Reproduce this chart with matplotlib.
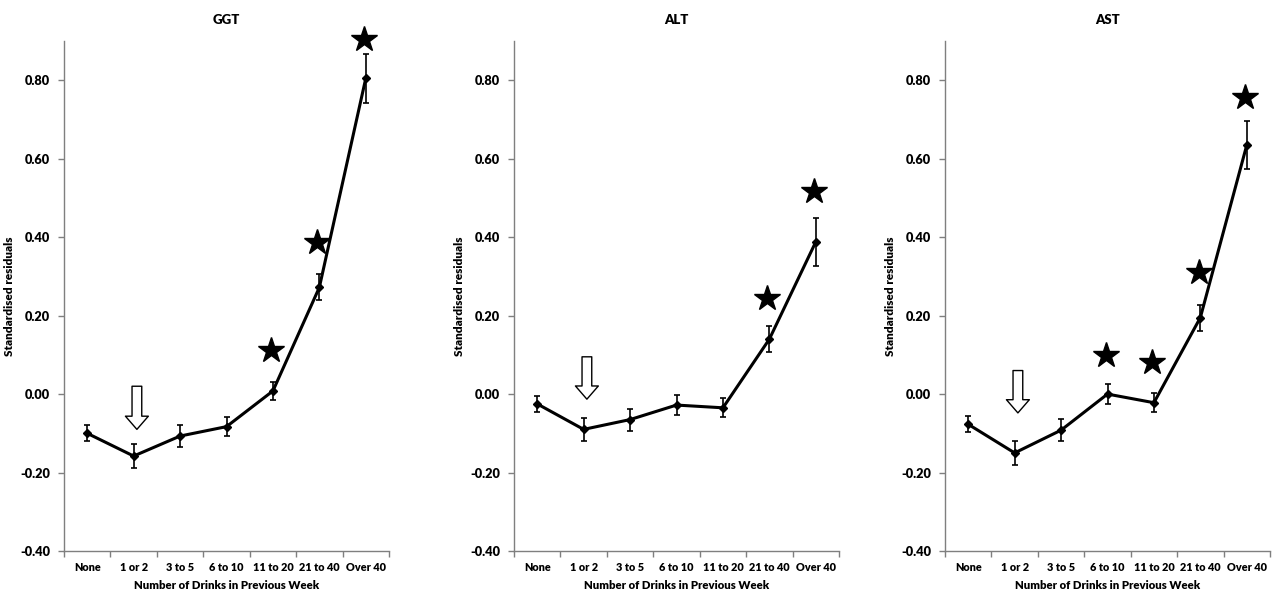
import matplotlib
matplotlib.use("Agg")
import matplotlib.pyplot as plt
from matplotlib.patches import FancyArrowPatch

plt.rcParams["font.family"] = ["Lato", "DejaVu Sans"]
plt.rcParams["font.weight"] = "heavy"

categories = ["None", "1 or 2", "3 to 5", "6 to 10", "11 to 20", "21 to 40", "Over 40"]
titles = ["GGT", "ALT", "AST"]

ggt = [-0.100, -0.158, -0.107, -0.083, 0.008, 0.272, 0.805]
ggt_err = [0.020, 0.030, 0.028, 0.025, 0.024, 0.033, 0.062]
alt = [-0.025, -0.090, -0.065, -0.028, -0.035, 0.140, 0.388]
alt_err = [0.020, 0.030, 0.028, 0.025, 0.024, 0.033, 0.062]
ast = [-0.077, -0.150, -0.092, 0.000, -0.022, 0.195, 0.635]
ast_err = [0.020, 0.030, 0.028, 0.025, 0.024, 0.033, 0.062]

# significance stars: (category index, y)
ggt_stars = [(4, 0.113), (5, 0.387), (6, 0.905)]
alt_stars = [(5, 0.245), (6, 0.517)]
ast_stars = [(3, 0.100), (4, 0.083), (5, 0.310), (6, 0.757)]

# hollow arrow at reference group: (x, y_top, y_tip)
arrows = [(1.07, 0.020, -0.090), (1.07, 0.095, -0.013), (1.07, 0.060, -0.048)]

series = [(ggt, ggt_err, ggt_stars), (alt, alt_err, alt_stars), (ast, ast_err, ast_stars)]

fig = plt.figure(figsize=(12.74, 5.93), dpi=100)
lefts = [64, 514, 945]
spine_col = "#7f7f7f"
x = list(range(len(categories)))

for i, (vals, errs, stars) in enumerate(series):
    ax = fig.add_axes([lefts[i] / 1274, 1 - 551 / 593, 325 / 1274, 510 / 593])
    ax.errorbar(x, vals, yerr=errs, color="black", lw=2.2, marker="D", ms=4,
                ecolor="black", elinewidth=1.2, capsize=2.2, capthick=1.2)
    for sx, sy in stars:
        ax.plot(sx - 0.04, sy, marker="*", ms=19, color="black", ls="none", clip_on=False)
    ax_x, ytop, ytip = arrows[i]
    arr = FancyArrowPatch((ax_x, ytop), (ax_x, ytip),
                          arrowstyle="simple,head_length=9.5,head_width=16.5,tail_width=7",
                          mutation_scale=1, shrinkA=0, shrinkB=0,
                          facecolor="white", edgecolor="black", lw=1.0)
    ax.add_patch(arr)

    ax.set_xlim(-0.5, 6.5)
    ax.set_ylim(-0.40, 0.90)
    ax.set_yticks([-0.4, -0.2, 0.0, 0.2, 0.4, 0.6, 0.8])
    ax.set_yticklabels(["-0.40", "-0.20", "0.00", "0.20", "0.40", "0.60", "0.80"])
    ax.set_xticks([k - 0.5 for k in range(8)])
    ax.set_xticklabels([])
    ax.set_xticks(x, minor=True)
    ax.set_xticklabels(categories, minor=True, fontsize=7.8, fontweight="heavy")
    ax.tick_params(axis="x", which="minor", length=0, pad=8)
    ax.tick_params(axis="x", which="major", length=4, color=spine_col, width=1)
    ax.tick_params(axis="y", length=4, color=spine_col, width=1, labelsize=9.2, pad=6)
    for lab in ax.get_yticklabels():
        lab.set_fontweight("heavy")
    for s in ["top", "right"]:
        ax.spines[s].set_visible(False)
    for s in ["left", "bottom"]:
        ax.spines[s].set_color(spine_col)
        ax.spines[s].set_linewidth(1)
    ax.set_xlabel("Number of Drinks in Previous Week", fontsize=8.2, fontweight="heavy", labelpad=5)
    ax.set_ylabel("Standardised residuals", fontsize=8.5, fontweight="heavy")
    ax.yaxis.set_label_coords(-0.151, 0.5)
    ax.set_title(titles[i], fontsize=9.5, fontweight="heavy", pad=12)

fig.savefig("out.png", dpi=100)
